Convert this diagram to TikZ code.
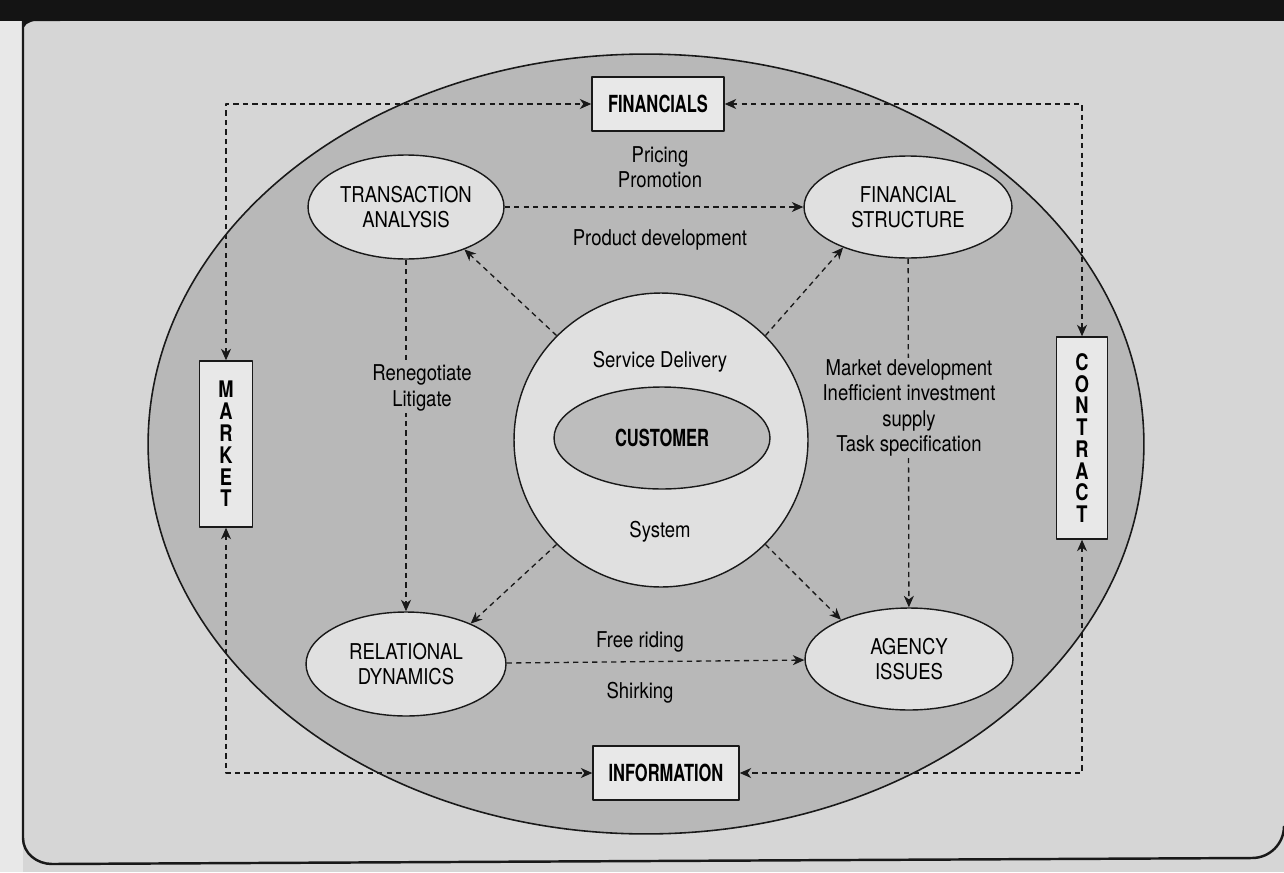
\documentclass[tikz,border=0pt]{standalone}
\usepackage{fontspec}
\setmainfont{TeX Gyre Heros}[FakeStretch=0.85]
\newfontfamily\boxfont{TeX Gyre Heros}[FakeStretch=0.7]
\newfontfamily\stackfont{TeX Gyre Heros}[FakeStretch=0.8]
\usetikzlibrary{arrows.meta,
                shapes.geometric,
                positioning}
\definecolor{pagegray}{rgb}{0.84,0.84,0.84}
\definecolor{stripgray}{rgb}{0.91,0.91,0.91}
\definecolor{ringgray}{rgb}{0.72,0.72,0.72}
\definecolor{bubblegray}{rgb}{0.88,0.88,0.88}
\definecolor{coregray}{rgb}{0.74,0.74,0.74}
\definecolor{boxgray}{rgb}{0.91,0.91,0.91}
\tikzset{
  txt/.style={font=\fontsize{12.4}{14.4}\selectfont,text=black,align=center,inner sep=1pt},
  bubble/.style={ellipse,draw=black!90,line width=0.8pt,fill=bubblegray,inner sep=0pt,txt},
  tagbox/.style={rectangle,draw=black!90,line width=0.8pt,fill=boxgray,inner sep=0pt,
                 font=\boxfont\bfseries\fontsize{13.4}{12.5}\selectfont,align=center},
  stackbox/.style={tagbox,font=\stackfont\bfseries\fontsize{13}{12.4}\selectfont},
  link/.style={dash pattern=on 3pt off 2.4pt,line width=0.75pt,black!90,
               arrows={-Stealth[length=2.3mm,width=2mm,inset=0.7mm]}},
  twoway/.style={link,arrows={Stealth[length=2.3mm,width=2mm,inset=0.7mm]-Stealth[length=2.3mm,width=2mm,inset=0.7mm]}},
}

\begin{document}
\begin{tikzpicture}[line join=round,x=0.02cm,y=-0.02cm]
\useasboundingbox (0,0) rectangle (1284,872);
% page, top bar and frame
\fill[pagegray] (0,0) rectangle (1284,872);
\fill[stripgray] (0,0) rectangle (23,872);
\fill[black!92] (0,0) rectangle (1284,21);
\fill[black!92] (23,21) -- (23,32) to[out=90,in=180] (60,21) -- cycle;
\draw[line width=1.4pt,black!90] (23,21) -- (23,838) to[out=-90,in=180] (52,864)
  -- (1252,858) to[out=0,in=-90] (1284,826);

% outer ring and the nodes inside it
\node[ellipse,draw=black!90,line width=0.9pt,fill=ringgray,
      minimum width=19.92cm,minimum height=15.6cm] (ring) at (646,444) {};
\node[circle,draw=black!90,line width=0.8pt,fill=bubblegray,
      minimum size=5.88cm] (hub) at (661,440) {};
\node[ellipse,draw=black!90,line width=0.8pt,fill=coregray,minimum width=4.32cm,
      minimum height=2.04cm,font=\boxfont\bfseries\fontsize{13.4}{14}\selectfont] (cust) at (662,438) {CUSTOMER};

\node[bubble,minimum width=3.92cm,minimum height=2.08cm] (ta) at (406,207) {TRANSACTION\\ANALYSIS};
\node[bubble,minimum width=4.16cm,minimum height=2.04cm] (fs) at (908,207) {FINANCIAL\\STRUCTURE};
\node[bubble,minimum width=4.0cm,minimum height=2.08cm] (rd) at (406,664) {RELATIONAL\\DYNAMICS};
\node[bubble,minimum width=4.16cm,minimum height=2.04cm] (ai) at (909,659) {AGENCY\\ISSUES};

\node[tagbox,minimum width=2.64cm,minimum height=1.08cm] (fin) at (658,104) {FINANCIALS};
\node[tagbox,minimum width=2.92cm,minimum height=1.08cm] (info) at (666,773) {INFORMATION};
\node[stackbox,minimum width=1.06cm,minimum height=3.32cm] (market) at (226,444) {M\\A\\R\\K\\E\\T};
\node[stackbox,minimum width=1.02cm,minimum height=4.04cm] (contract) at (1082,438) {C\\O\\N\\T\\R\\A\\C\\T};

% texts
\node[txt] (pp) at (660,167) {Pricing\\Promotion};
\node[txt] (pd) at (660,240) {Product development};
\node[txt] (sd) at (660,362) {Service Delivery};
\node[txt] (sys) at (660,532) {System};
\node[txt] (fr) at (640,642) {Free riding};
\node[txt] (sh) at (640,693) {Shirking};

% links
\draw[twoway] (market.north) |- (fin.west);
\draw[twoway] (fin.east) -| (contract.north);
\draw[twoway] (market.south) |- (info.west);
\draw[twoway] (contract.south) |- (info.east);
\draw[link] (ta) -- (fs);
\draw[link] (rd) -- (ai);
\draw[link] (ta) -- (rd);
\draw[link] (fs) -- (ai);
\draw[link] (hub.135) -- (ta.-36);
\draw[link] (hub.45) -- (fs.-148);
\draw[link] (hub.225) -- (rd.32);
\draw[link] (hub.-45) -- (ai.150);

% labels sitting on the vertical links
\node[txt,fill=ringgray] (rl) at (422,388) {Renegotiate\\Litigate};
\node[txt,fill=ringgray] (mi) at (909,408) {Market development\\Inefficient investment\\supply\\Task specification};
\end{tikzpicture}
\end{document}
